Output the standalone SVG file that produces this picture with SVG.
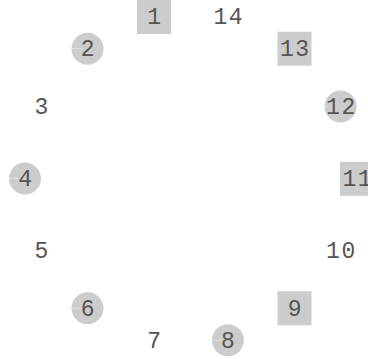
<svg xmlns="http://www.w3.org/2000/svg" width="368" height="359" viewBox="0 0 368 359">
<style>
.c{fill:#cccccc;stroke:none}
.r{fill:#cccccc;stroke:none}
.h{stroke:#e2e2e2;stroke-width:1}
text{font-family:"Liberation Mono","Courier New",monospace;font-size:23px;letter-spacing:1.5px;fill:#555555;text-anchor:middle}
</style>
<rect width="368" height="359" fill="#ffffff"/>
<g id="connectors"></g>
<g id="n1"><rect class="r" x="137" y="0" width="34" height="34"/><text x="154.8" y="24.2">1</text></g>
<g id="n2"><circle class="c" cx="87.5" cy="48.7" r="16"/><line class="h" x1="71.5" y1="48.7" x2="82" y2="48.7"/><text x="88.3" y="56.2">2</text></g>
<g id="n3"><text x="42.2" y="114">3</text></g>
<g id="n4"><circle class="c" cx="25" cy="178.5" r="16"/><line class="h" x1="9" y1="178.5" x2="19" y2="178.5"/><text x="25.8" y="186">4</text></g>
<g id="n5"><text x="42.2" y="258">5</text></g>
<g id="n6"><circle class="c" cx="87.5" cy="308.3" r="16"/><line class="h" x1="71.5" y1="308.3" x2="82" y2="308.3"/><text x="88.3" y="315.8">6</text></g>
<g id="n7"><text x="154.9" y="347.8">7</text></g>
<g id="n8"><circle class="c" cx="227.9" cy="340.3" r="16"/><line class="h" x1="211.9" y1="340.3" x2="222" y2="340.3"/><text x="228.7" y="347.8">8</text></g>
<g id="n9"><rect class="r" x="277.5" y="291.3" width="34" height="34"/><text x="295.3" y="315.8">9</text></g>
<g id="n10"><text x="341.4" y="258">10</text></g>
<g id="n11"><rect class="r" x="340" y="161.8" width="34" height="34"/><text x="357.8" y="186">11</text></g>
<g id="n12"><circle class="c" cx="340.6" cy="106.5" r="16"/><line class="h" x1="324.6" y1="106.5" x2="329" y2="106.5"/><text x="341.4" y="114">12</text></g>
<g id="n13"><rect class="r" x="277.5" y="31.7" width="34" height="34"/><text x="295.3" y="56.2">13</text></g>
<g id="n14"><text x="228.7" y="24.2">14</text></g>
</svg>
